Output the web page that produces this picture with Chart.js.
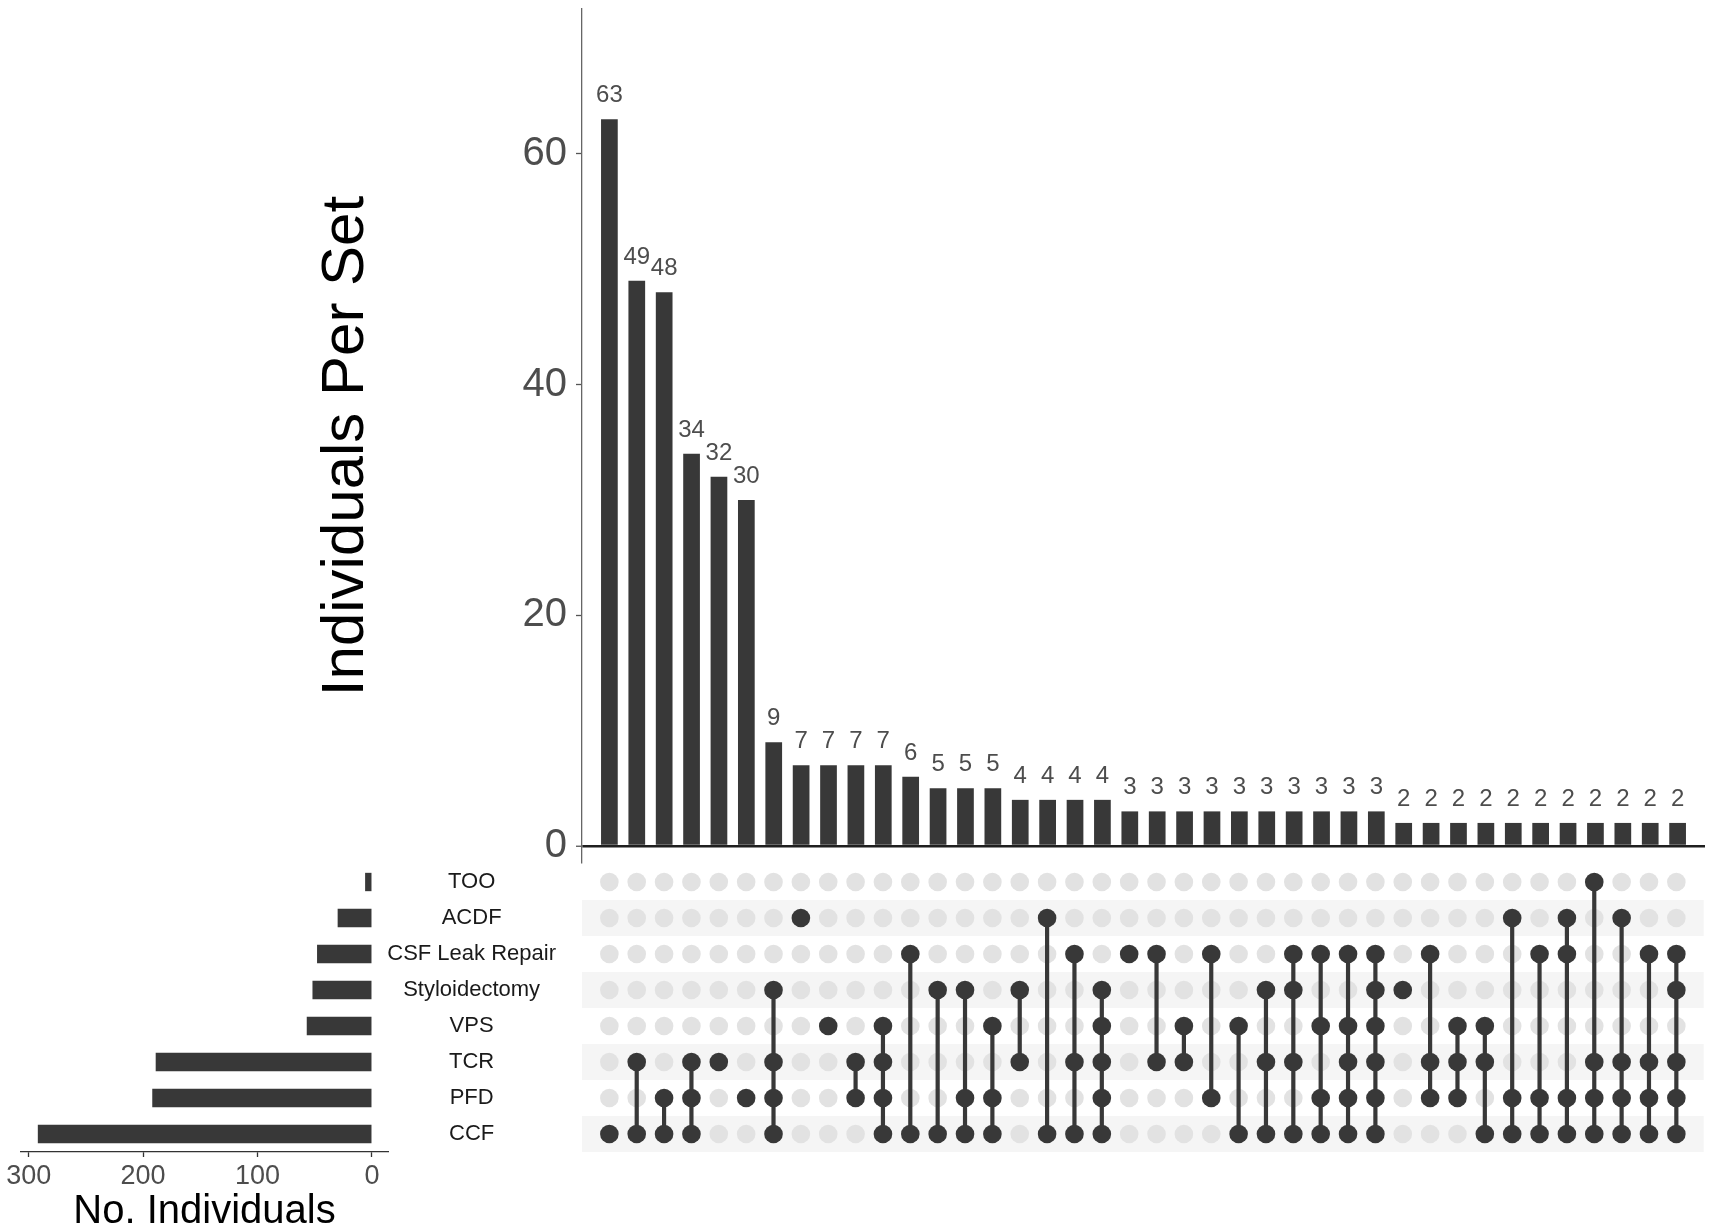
<!DOCTYPE html>
<html>
<head>
<meta charset="utf-8">
<script src="https://cdn.jsdelivr.net/npm/chart.js"></script>
<style>
  body { margin: 0; background: #fff; }
  #page { position: relative; width: 1713px; height: 1228px; overflow: hidden; }
  canvas { position: absolute; }
</style>
</head>
<body>
<div id="page">
  <canvas id="bars" width="1713" height="880" style="left:0;top:0;width:1713px;height:880px"></canvas>
  <canvas id="matrix" width="1713" height="330" style="left:0;top:840px;width:1713px;height:330px"></canvas>
  <canvas id="sizes" width="400" height="400" style="left:0;top:840px;width:400px;height:400px"></canvas>
</div>
<script>
const setNames = ['TOO', 'ACDF', 'CSF Leak Repair', 'Styloidectomy', 'VPS', 'TCR', 'PFD', 'CCF'];
const setSizes = [6, 30, 48, 52, 57, 189, 192, 292];
const setSizeTicks = [0, 100, 200, 300];

const intersectionSizes = [63, 49, 48, 34, 32, 30, 9, 7, 7, 7, 7, 6, 5, 5, 5, 4, 4, 4, 4,
  3, 3, 3, 3, 3, 3, 3, 3, 3, 3, 2, 2, 2, 2, 2, 2, 2, 2, 2, 2, 2];
const intersectionTicks = [0, 20, 40, 60];

const CSF = 'CSF Leak Repair';
const intersectionSets = [
  ['CCF'],
  ['TCR', 'CCF'],
  ['PFD', 'CCF'],
  ['TCR', 'PFD', 'CCF'],
  ['TCR'],
  ['PFD'],
  ['Styloidectomy', 'TCR', 'PFD', 'CCF'],
  ['ACDF'],
  ['VPS'],
  ['TCR', 'PFD'],
  ['VPS', 'TCR', 'PFD', 'CCF'],
  [CSF, 'CCF'],
  ['Styloidectomy', 'CCF'],
  ['Styloidectomy', 'PFD', 'CCF'],
  ['VPS', 'PFD', 'CCF'],
  ['Styloidectomy', 'TCR'],
  ['ACDF', 'CCF'],
  [CSF, 'TCR', 'CCF'],
  ['Styloidectomy', 'VPS', 'TCR', 'PFD', 'CCF'],
  [CSF],
  [CSF, 'TCR'],
  ['VPS', 'TCR'],
  [CSF, 'PFD'],
  ['VPS', 'CCF'],
  ['Styloidectomy', 'TCR', 'CCF'],
  [CSF, 'Styloidectomy', 'TCR', 'CCF'],
  [CSF, 'VPS', 'PFD', 'CCF'],
  [CSF, 'VPS', 'TCR', 'PFD', 'CCF'],
  [CSF, 'Styloidectomy', 'VPS', 'TCR', 'PFD', 'CCF'],
  ['Styloidectomy'],
  [CSF, 'TCR', 'PFD'],
  ['VPS', 'TCR', 'PFD'],
  ['VPS', 'TCR', 'CCF'],
  ['ACDF', 'PFD', 'CCF'],
  [CSF, 'PFD', 'CCF'],
  ['ACDF', CSF, 'PFD', 'CCF'],
  ['TOO', 'TCR', 'PFD', 'CCF'],
  ['ACDF', 'TCR', 'PFD', 'CCF'],
  [CSF, 'TCR', 'PFD', 'CCF'],
  [CSF, 'Styloidectomy', 'TCR', 'PFD', 'CCF'],
];

const dark = '#383838';
const light = '#e2e2e2';
const stripe = '#f5f5f5';
const fontFamily = '"Liberation Sans", Arial, sans-serif';

Chart.defaults.font.family = fontFamily;
Chart.defaults.animation = false;
Chart.defaults.plugins.legend.display = false;
Chart.defaults.plugins.tooltip.enabled = false;

const nCols = intersectionSizes.length;

// vertical scales ask for room for half a label above and below; not wanted here
const noLabelPadding = (scale) => {
  scale.paddingTop = 0;
  scale.paddingBottom = 0;
  scale.paddingLeft = 0;
  scale.paddingRight = 0;
};

// top: intersection sizes
const barLabels = {
  id: 'barLabels',
  afterDatasetsDraw(chart) {
    const ctx = chart.ctx;
    ctx.save();
    ctx.font = '24px ' + fontFamily;
    ctx.fillStyle = '#4d4d4d';
    ctx.textAlign = 'center';
    ctx.textBaseline = 'alphabetic';
    chart.getDatasetMeta(0).data.forEach((bar, i) => {
      ctx.fillText(String(intersectionSizes[i]), bar.x, bar.y - 17);
    });
    ctx.restore();
  }
};

const yTitle = {
  id: 'yTitle',
  afterDraw(chart) {
    const ctx = chart.ctx;
    ctx.save();
    ctx.translate(346, 446);
    ctx.rotate(-Math.PI / 2);
    ctx.font = '60px ' + fontFamily;
    ctx.fillStyle = '#000';
    ctx.textAlign = 'center';
    ctx.textBaseline = 'middle';
    ctx.fillText('Individuals Per Set', 0, 0);
    ctx.restore();
  }
};

new Chart(document.getElementById('bars'), {
  type: 'bar',
  data: {
    datasets: [{
      data: intersectionSizes.map((v, i) => ({ x: i + 1, y: v })),
      backgroundColor: dark,
      barPercentage: 0.61,
      categoryPercentage: 1
    }]
  },
  options: {
    responsive: false,
    layout: { padding: { left: 316, right: 8, top: 9, bottom: 18 } },
    scales: {
      x: { type: 'linear', min: 0, max: nCols + 1, offset: false, display: false },
      y: {
        min: -1.387,
        max: 72.56,
        afterBuildTicks: (scale) => { scale.ticks = intersectionTicks.map(v => ({ value: v })); },
        afterFit: (scale) => { scale.width = 266; noLabelPadding(scale); },
        ticks: { font: { size: 40 }, color: '#4d4d4d', padding: 9 },
        grid: {
          color: (c) => c.tick && c.tick.value === 0 ? '#1f1f1f' : 'rgba(0,0,0,0)',
          lineWidth: (c) => c.tick && c.tick.value === 0 ? 2.5 : 1,
          tickColor: '#555',
          tickWidth: 1.3,
          tickLength: 6
        },
        border: { display: true, color: '#666', width: 1.3 }
      }
    }
  },
  plugins: [barLabels, yTitle]
});

// matrix of set membership
const filled = [];
const empty = [];
const links = [];
intersectionSets.forEach((sets, i) => {
  const col = i + 1;
  setNames.forEach((name) => {
    (sets.includes(name) ? filled : empty).push({ x: col, y: name });
  });
  if (sets.length > 1) {
    const idx = sets.map(s => setNames.indexOf(s));
    links.push({ x: col, y: setNames[Math.min(...idx)] });
    links.push({ x: col, y: setNames[Math.max(...idx)] });
    links.push({ x: col, y: null });
  }
});

const stripes = {
  id: 'stripes',
  beforeDatasetsDraw(chart) {
    const { ctx, chartArea, scales: { y } } = chart;
    const band = y.getPixelForValue(1) - y.getPixelForValue(0);
    ctx.save();
    ctx.fillStyle = stripe;
    setNames.forEach((name, i) => {
      if (i % 2 === 1) {
        const py = y.getPixelForValue(i);
        ctx.fillRect(chartArea.left, py - band / 2, chartArea.right - chartArea.left, band);
      }
    });
    ctx.restore();
  }
};

new Chart(document.getElementById('matrix'), {
  type: 'scatter',
  data: {
    datasets: [
      { data: filled, order: 0, pointRadius: 9.3, pointBackgroundColor: dark, pointBorderWidth: 0, showLine: false },
      { data: links, order: 1, showLine: true, spanGaps: false, borderColor: dark, borderWidth: 4.2, pointRadius: 0 },
      { data: empty, order: 2, pointRadius: 9.3, pointBackgroundColor: light, pointBorderWidth: 0, showLine: false }
    ]
  },
  options: {
    responsive: false,
    layout: { padding: { left: 360, right: 8, top: 24, bottom: 18 } },
    scales: {
      x: { type: 'linear', min: 0, max: nCols + 1, offset: false, display: false },
      y: {
        type: 'category',
        labels: setNames,
        offset: true,
        position: 'left',
        afterFit: (scale) => { scale.width = 222; noLabelPadding(scale); },
        grid: { display: false, drawTicks: false },
        border: { display: false },
        ticks: { font: { size: 22 }, color: '#1a1a1a', crossAlign: 'center', padding: 26 }
      }
    }
  },
  plugins: [stripes]
});

// left: set sizes
new Chart(document.getElementById('sizes'), {
  type: 'bar',
  data: {
    labels: setNames,
    datasets: [{
      data: setSizes,
      backgroundColor: dark,
      barPercentage: 0.51,
      categoryPercentage: 1
    }]
  },
  options: {
    responsive: false,
    indexAxis: 'y',
    layout: { padding: { left: 21, right: 12, top: 24, bottom: 1 } },
    scales: {
      y: { display: false, offset: true },
      x: {
        type: 'linear',
        reverse: true,
        min: -14,
        max: 306.7,
        afterBuildTicks: (scale) => { scale.ticks = setSizeTicks.map(v => ({ value: v })); },
        afterFit: (scale) => { scale.height = 87; noLabelPadding(scale); },
        ticks: { font: { size: 27 }, color: '#4d4d4d', padding: 3 },
        grid: { display: true, drawOnChartArea: false, drawTicks: true, tickLength: 5, tickColor: '#333', tickWidth: 1.3 },
        border: { display: true, color: '#333', width: 1.3 },
        title: {
          display: true,
          text: 'No. Individuals',
          color: '#000',
          font: { size: 40, lineHeight: 1 },
          padding: { top: 0, bottom: 7 }
        }
      }
    }
  }
});
</script>
</body>
</html>
